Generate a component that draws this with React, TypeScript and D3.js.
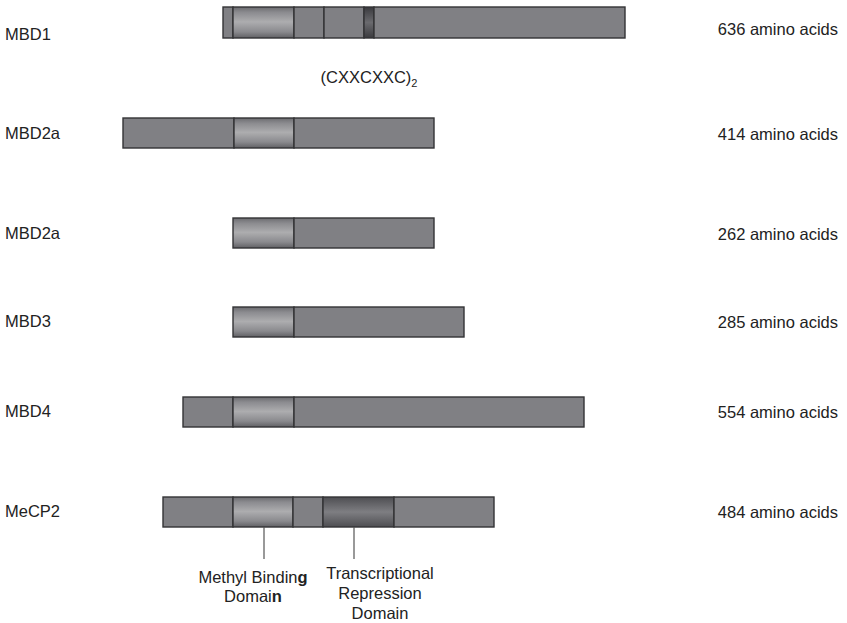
import React from "react";
import * as d3 from "d3";

// ---- data ----
const proteins = ["MBD1", "MBD2a", "MBD2a", "MBD3", "MBD4", "MeCP2"];
const lengths = [636, 414, 262, 285, 554, 484];
// segments per protein: [start, end, kind] in schematic units (aligned on the MBD)
const segments: [number, number, string][][] = [
  [[100, 110, "body"], [110, 171, "mbd"], [171, 201, "body"], [201, 241, "body"], [241, 251, "cxxc"], [251, 502, "body"]],
  [[0, 111, "body"], [111, 171, "mbd"], [171, 311, "body"]],
  [[110, 171, "mbd"], [171, 311, "body"]],
  [[110, 171, "mbd"], [171, 341, "body"]],
  [[60, 110, "body"], [110, 171, "mbd"], [171, 461, "body"]],
  [[40, 110, "body"], [110, 170, "mbd"], [170, 200, "body"], [200, 271, "trd"], [271, 371, "body"]],
];
const cxxcLabel = "(CXXCXXC)";
const cxxcSub = "2";
const calloutMBD = 141; // schematic position of MBD callout line
const calloutTRD = 231;

// ---- layout ----
const W = 847, H = 623;
const rowTop = [7, 118, 218, 307, 397, 497];
const rowH = [31, 30, 30, 30, 30, 30];
const leftBase = [40, 139, 239, 327, 417, 517];
const rightBase = [35, 140, 240, 328, 418, 518];

const x = d3.scaleLinear().domain([0, 502]).range([123, 625]);

const fills: Record<string, string> = {
  body: "#808084",
  mbd: "url(#gMBD)",
  trd: "url(#gTRD)",
  cxxc: "url(#gCXXC)",
};

const font = "'Liberation Sans', Arial, Helvetica, sans-serif";

export default function App() {
  const last = proteins.length - 1;
  const lineTop = rowTop[last] + rowH[last];
  return (
    <svg width={W} height={H} style={{ position: "absolute", left: 0, top: 0 }} fontFamily={font}>
      <defs>
        <linearGradient id="gMBD" x1="0" y1="0" x2="0" y2="1">
          <stop offset="0%" stopColor="#6c6c70" />
          <stop offset="18%" stopColor="#8c8c90" />
          <stop offset="48%" stopColor="#adadaf" />
          <stop offset="80%" stopColor="#8a8a8e" />
          <stop offset="100%" stopColor="#606064" />
        </linearGradient>
        <linearGradient id="gTRD" x1="0" y1="0" x2="0" y2="1">
          <stop offset="0%" stopColor="#4e4e52" />
          <stop offset="50%" stopColor="#7e7e82" />
          <stop offset="100%" stopColor="#4e4e52" />
        </linearGradient>
        <linearGradient id="gCXXC" x1="0" y1="0" x2="0" y2="1">
          <stop offset="0%" stopColor="#3a3a3e" />
          <stop offset="50%" stopColor="#6a6a6e" />
          <stop offset="100%" stopColor="#3a3a3e" />
        </linearGradient>
      </defs>
      <rect width={W} height={H} fill="#fff" />
      {proteins.map((name, i) => (
        <g key={i}>
          {segments[i].map(([s, e, k], j) => (
            <rect
              key={j}
              x={x(s)}
              y={rowTop[i]}
              width={x(e) - x(s)}
              height={rowH[i]}
              fill={fills[k]}
              stroke="#333335"
              strokeWidth={1.4}
            />
          ))}
          <text x={5} y={leftBase[i]} fontSize={16.5} fill="#222">{name}</text>
          <text x={838} y={rightBase[i]} fontSize={16.5} fill="#222" textAnchor="end">
            {`${lengths[i]} amino acids`}
          </text>
        </g>
      ))}
      <text x={x(246)} y={83} fontSize={16.5} fill="#222" textAnchor="middle">
        {cxxcLabel}
        <tspan fontSize={11} dy={4}>{cxxcSub}</tspan>
      </text>
      <line x1={x(calloutMBD)} x2={x(calloutMBD)} y1={lineTop} y2={559} stroke="#555" strokeWidth={1.2} />
      <line x1={x(calloutTRD)} x2={x(calloutTRD)} y1={lineTop} y2={559} stroke="#555" strokeWidth={1.2} />
      <text x={253} y={583} fontSize={16.5} fill="#222" textAnchor="middle">
        Methyl Bindin<tspan fontWeight="bold">g</tspan>
      </text>
      <text x={253} y={602} fontSize={16.5} fill="#222" textAnchor="middle">
        Domai<tspan fontWeight="bold">n</tspan>
      </text>
      <text x={380} y={579} fontSize={16.5} fill="#222" textAnchor="middle">Transcriptional</text>
      <text x={380} y={599} fontSize={16.5} fill="#222" textAnchor="middle">Repression</text>
      <text x={380} y={619} fontSize={16.5} fill="#222" textAnchor="middle">Domain</text>
    </svg>
  );
}
